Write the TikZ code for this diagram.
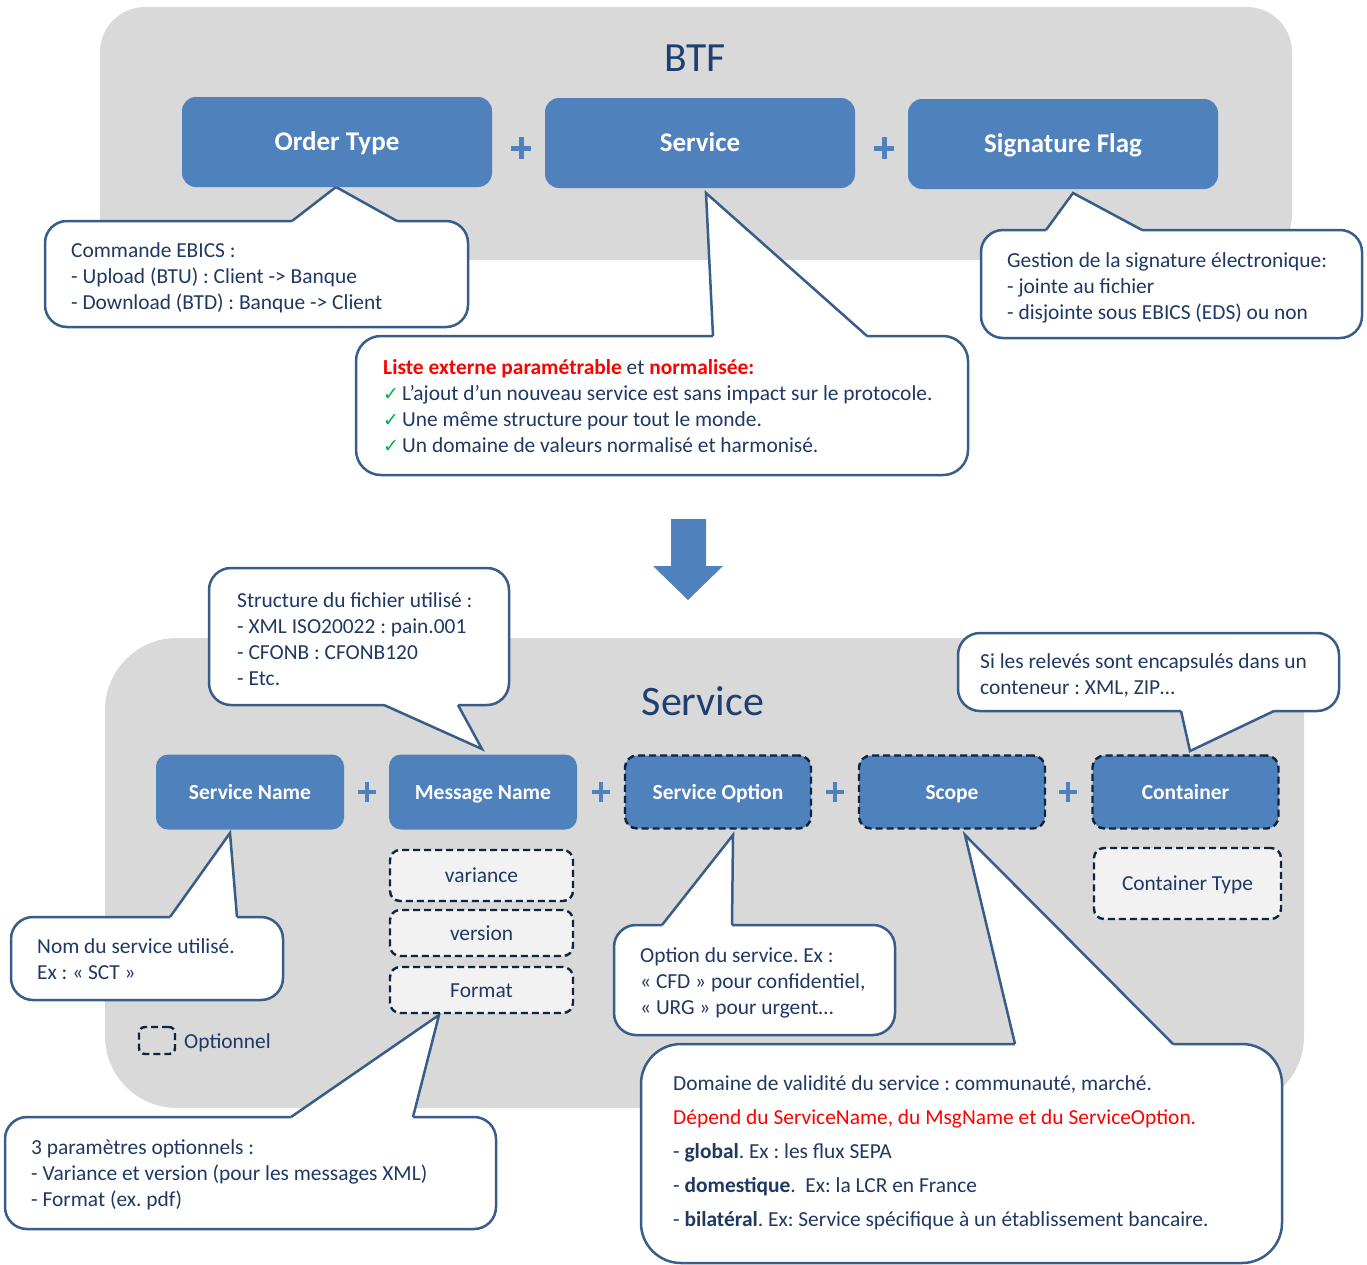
\documentclass[tikz,border=0pt]{standalone}
\usepackage{fontspec}
\setmainfont{Carlito}
\newfontfamily\symfont{DejaVu Sans}
\newcommand{\myfs}[1]{\fontsize{#1}{#1}\selectfont}
\frenchspacing
\definecolor{panelgray}{HTML}{D9D9D9}
\definecolor{boxblue}{HTML}{4F81BD}
\definecolor{lineblue}{HTML}{385D8A}
\definecolor{textnavy}{HTML}{1F3864}
\definecolor{titlenavy}{HTML}{1F3F73}
\definecolor{dashnavy}{HTML}{0F243E}
\definecolor{optgray}{HTML}{F2F2F2}
\definecolor{checkgreen}{HTML}{00B050}
\definecolor{alertred}{HTML}{FF0000}
\begin{document}
\begin{tikzpicture}[x=1pt,y=-1pt,
  panel/.style={fill=panelgray, inner sep=0pt, outer sep=0pt, draw=none},
  mainbox/.style={fill=boxblue, rounded corners=14pt, inner sep=0pt, text=white, font=\bfseries\myfs{27}, text height=17.5pt, text depth=0pt, minimum width=310pt, minimum height=90pt},
  subbox/.style={fill=boxblue, rounded corners=12pt, inner sep=0pt, text=white, font=\bfseries\myfs{21.5}, text height=14pt, text depth=0pt, minimum width=188pt, minimum height=75pt},
  optline/.style={draw=dashnavy, line width=2.4pt, dash pattern=on 7pt off 4pt},
  optbox/.style={subbox, optline, minimum width=186pt, minimum height=73pt},
  parambox/.style={fill=optgray, optline, rounded corners=10pt, inner sep=0pt, text=textnavy, font=\myfs{21.4}, text height=14pt, text depth=0pt},
  callout/.style={draw=lineblue, fill=white, line width=2.5pt, rounded corners=22pt, inner sep=0pt},
  ptr/.style={draw=lineblue, line width=2.5pt, line join=miter},
  ctext/.style={anchor=base west, inner sep=0pt, text=textnavy, font=\myfs{21.4}},
  chk/.style={anchor=base west, inner sep=0pt, text=checkgreen, font=\symfont\myfs{19}},
  plussign/.style={draw=boxblue, line width=5pt},
  plussmall/.style={draw=boxblue, line width=4.5pt},
  titletext/.style={text=titlenavy, inner sep=0pt}
]
\useasboundingbox (0,0) rectangle (1367,1264);

% ---------- panels ----------
\node[panel, rounded corners=45pt, minimum width=1192pt, minimum height=253pt] (btfpanel) at (696,133.5) {};
\node[panel, rounded corners=72pt, minimum width=1199pt, minimum height=470pt] (servpanel) at (704.5,873) {};

\node[titletext, font=\myfs{41.5}] (btftitle) at (695,58) {BTF};
\node[titletext, font=\myfs{42}] (servtitle) at (703,701) {Service};

% ---------- callouts (top) ----------
% Order type callout
\node[callout, minimum width=423pt, minimum height=106pt] (cOrder) at (256.5,274) {};
\coordinate (tOrder) at (336,187);
\fill[white] (292,224) -- (292,221) -- (tOrder) -- (397,221) -- (397,224) -- cycle;
\draw[ptr] (292,221) -- (tOrder) -- (397,221);
\node[ctext] (o1) at (71,257) {Commande EBICS :};
\node[ctext] (o2) at (71,283) {- Upload (BTU) : Client -> Banque};
\node[ctext] (o3) at (71,309) {- Download (BTD) : Banque -> Client};

% Service callout
\node[callout, rounded corners=25pt, minimum width=612pt, minimum height=139pt] (cService) at (662,405.5) {};
\coordinate (tService) at (706,193);
\fill[white] (713,339) -- (713,336) -- (tService) -- (867,336) -- (867,339) -- cycle;
\draw[ptr] (713,336) -- (tService) -- (867,336);
\node[ctext] (s1) at (383,374) {\textcolor{alertred}{\bfseries Liste externe paramétrable} et \textcolor{alertred}{\bfseries normalisée:}};
\node[chk] (k2) at (383,400) {✓};
\node[ctext] (s2) at (402,400) {L’ajout d’un nouveau service est sans impact sur le protocole.};
\node[chk] (k3) at (383,426) {✓};
\node[ctext] (s3) at (402,426) {Une même structure pour tout le monde.};
\node[chk] (k4) at (383,452) {✓};
\node[ctext] (s4) at (402,452) {Un domaine de valeurs normalisé et harmonisé.};

% Signature callout
\node[callout, minimum width=381pt, minimum height=108pt] (cSig) at (1171.5,284) {};
\coordinate (tSig) at (1073,193);
\fill[white] (1046,233) -- (1046,230) -- (tSig) -- (1142,230) -- (1142,233) -- cycle;
\draw[ptr] (1046,230) -- (tSig) -- (1142,230);
\node[ctext] (g1) at (1007,267) {Gestion de la signature électronique:};
\node[ctext] (g2) at (1007,293) {- jointe au fichier};
\node[ctext] (g3) at (1007,319) {- disjointe sous EBICS (EDS) ou non};

% ---------- callouts (bottom) ----------
% Structure callout
\node[callout, minimum width=300pt, minimum height=137pt] (cStruct) at (359,636.5) {};
\coordinate (tStruct) at (482,749);
\fill[white] (384,702) -- (384,705) -- (tStruct) -- (458,705) -- (458,702) -- cycle;
\draw[ptr] (384,705) -- (tStruct) -- (458,705);
\node[ctext] (m1) at (237,607) {Structure du fichier utilisé :};
\node[ctext] (m2) at (237,633) {- XML ISO20022 : pain.001};
\node[ctext] (m3) at (237,659) {- CFONB : CFONB120};
\node[ctext] (m4) at (237,685) {- Etc.};

% Container callout
\node[callout, minimum width=381pt, minimum height=78pt] (cCont) at (1148.5,672) {};
\coordinate (tCont) at (1190,751);
\fill[white] (1181,708) -- (1181,711) -- (tCont) -- (1274,711) -- (1274,708) -- cycle;
\draw[ptr] (1181,711) -- (tCont) -- (1274,711);
\node[ctext] (r1) at (980,668) {Si les relevés sont encapsulés dans un};
\node[ctext] (r2) at (980,694) {conteneur : XML, ZIP…};

% Service name callout
\node[callout, minimum width=272pt, minimum height=83pt] (cName) at (147,958.5) {};
\coordinate (tName) at (230,833);
\fill[white] (170,920) -- (170,917) -- (tName) -- (237,917) -- (237,920) -- cycle;
\draw[ptr] (170,917) -- (tName) -- (237,917);
\node[ctext] (n1) at (37,953) {Nom du service utilisé.};
\node[ctext] (n2) at (37,979) {Ex : « SCT »};

% Parameters callout
\node[callout, minimum width=491pt, minimum height=112pt] (cParam) at (250.5,1173) {};
\coordinate (tParam) at (439,1015);
\fill[white] (291,1120) -- (291,1117) -- (tParam) -- (413,1117) -- (413,1120) -- cycle;
\draw[ptr] (291,1117) -- (tParam) -- (413,1117);
\node[ctext] (p1) at (31,1154) {3 paramètres optionnels :};
\node[ctext] (p2) at (31,1180) {- Variance et version (pour les messages XML)};
\node[ctext] (p3) at (31,1206) {- Format (ex. pdf)};

% Service option callout
\node[callout, minimum width=281pt, minimum height=110pt] (cOption) at (754.5,980) {};
\coordinate (tOption) at (733,835);
\fill[white] (662,928) -- (662,925) -- (tOption) -- (732,925) -- (732,928) -- cycle;
\draw[ptr] (662,925) -- (tOption) -- (732,925);
\node[ctext] (q1) at (640,962) {Option du service. Ex :};
\node[ctext] (q2) at (640,988) {« CFD » pour confidentiel,};
\node[ctext] (q3) at (640,1014) {« URG » pour urgent…};

% Scope callout
\node[callout, rounded corners=40pt, minimum width=641pt, minimum height=219pt] (cScope) at (961.5,1153.5) {};
\coordinate (tScope) at (965,835);
\fill[white] (1015,1047) -- (1015,1044) -- (tScope) -- (1173,1044) -- (1173,1047) -- cycle;
\draw[ptr] (1015,1044) -- (tScope) -- (1173,1044);
\node[ctext] (d1) at (673,1090) {Domaine de validité du service : communauté, marché.};
\node[ctext, text=alertred] (d2) at (673,1124) {Dépend du ServiceName, du MsgName et du ServiceOption.};
\node[ctext] (d3) at (673,1158) {- \textbf{global}. Ex : les flux SEPA};
\node[ctext] (d4) at (673,1192) {- \textbf{domestique}.\ \ Ex: la LCR en France};
\node[ctext] (d5) at (673,1226) {- \textbf{bilatéral}. Ex: Service spécifique à un établissement bancaire.};

% ---------- main boxes ----------
\node[mainbox] (ordertype) at (337,142) {Order Type};
\node[mainbox] (service) at (700,143) {Service};
\node[mainbox] (sigflag) at (1063,144) {Signature Flag};

\draw[plussign] (521,137) -- (521,159) (511,148) -- (531,148);
\draw[plussign] (884,137) -- (884,159) (874,148) -- (894,148);

\node[subbox] (servname) at (250,792) {Service Name};
\node[subbox] (msgname) at (483,792) {Message Name};
\node[optbox] (servopt) at (718,792) {Service Option};
\node[optbox] (scope) at (952,792) {Scope};
\node[optbox] (container) at (1185.5,792) {Container};

\foreach \px [count=\i] in {367,601,835,1068}{
  \draw[plussmall] (\px,782) -- (\px,802) (\px-9,792) -- (\px+9,792);
}

\node[parambox, minimum width=183pt, minimum height=51pt] (variance) at (481.5,875.5) {variance};
\node[parambox, minimum width=183pt, minimum height=46pt] (version) at (481.5,933) {version};
\node[parambox, minimum width=183pt, minimum height=46pt] (format) at (481.5,990) {Format};
\node[parambox, minimum width=187pt, minimum height=71pt] (conttype) at (1187.5,883.5) {Container Type};

% legend
\node[parambox, fill=none, rounded corners=6pt, minimum width=36pt, minimum height=27pt] (legendbox) at (157,1040.5) {};
\node[ctext] (legendtext) at (184,1048) {Optionnel};

% ---------- big arrow ----------
\fill[boxblue] (671,519) -- (706,519) -- (706,566) -- (723,566) -- (688,600) -- (653,566) -- (671,566) -- cycle;
\end{tikzpicture}
\end{document}
